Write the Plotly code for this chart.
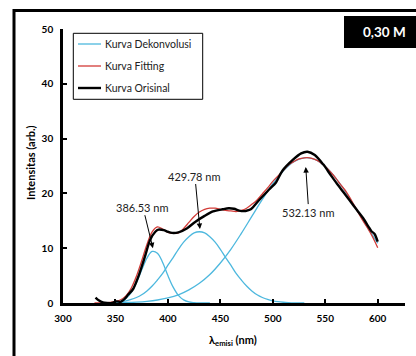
import plotly.graph_objects as go

# ---- data ----
wl_orig = [331, 334, 338, 342, 347, 351, 355, 358, 362, 367, 372, 378, 383, 388, 391, 396,
           400, 404, 410, 418, 426, 435, 443, 452, 458, 463, 469, 474, 479, 487, 497, 503,
           509, 519, 527, 533, 540, 548, 555, 561, 567, 573, 580, 586, 591, 594, 597, 600]
y_orig = [1.0, 0.5, 0.1, 0.0, 0.0, 0.3, 0.2, 0.6, 1.5, 2.6, 4.9, 8.4, 11.5, 13.0, 13.4, 13.3,
          13.0, 12.8, 12.9, 13.6, 14.8, 15.9, 16.7, 17.1, 17.3, 17.2, 16.8, 16.8, 17.1, 18.8, 20.8, 22.0,
          24.1, 26.1, 27.3, 27.6, 27.0, 25.3, 23.4, 21.8, 20.3, 18.8, 17.0, 15.5, 14.0, 13.1, 12.6, 11.2]

wl_fit = [330, 335, 340, 345, 350, 355, 360, 365, 370, 375, 380, 385, 390, 395, 400, 405,
          410, 415, 420, 425, 430, 435, 440, 445, 450, 455, 460, 465, 470, 475, 480, 485,
          490, 495, 500, 505, 510, 515, 520, 525, 530, 535, 540, 545, 550, 555, 560, 565,
          570, 575, 580, 585, 590, 595, 600]
y_fit = [0.0, 0.0, 0.0, 0.1, 0.3, 0.6, 1.3, 2.7, 4.9, 7.7, 10.7, 13.0, 13.9, 13.5, 12.9, 12.7,
         12.8, 13.6, 14.7, 15.8, 16.6, 17.1, 17.3, 17.3, 17.1, 16.9, 16.8, 16.7, 16.9, 17.3, 18.0, 18.8,
         19.9, 21.0, 22.2, 23.2, 24.2, 25.2, 25.8, 26.3, 26.5, 26.5, 26.2, 25.7, 24.9, 23.9, 22.8, 21.5,
         20.3, 18.7, 17.0, 15.3, 13.8, 12.1, 10.1]

wl_p1 = [345, 350, 355, 360, 365, 370, 375, 380, 385, 390, 395, 400, 405, 410, 415, 420, 425, 430, 440]
y_p1 = [0.02, 0.09, 0.30, 0.83, 1.9, 3.7, 6.0, 8.2, 9.4, 9.1, 7.4, 5.0, 2.9, 1.4, 0.57, 0.19, 0.06, 0.01, 0.0]

wl_p2 = [350, 355, 360, 365, 370, 375, 380, 385, 390, 395, 400, 405, 410, 415, 420, 425, 430,
         435, 440, 445, 450, 455, 460, 465, 470, 475, 480, 485, 490, 495, 500, 505, 510, 515, 520, 530]
y_p2 = [0.14, 0.24, 0.40, 0.64, 1.0, 1.5, 2.2, 3.1, 4.2, 5.4, 6.9, 8.3, 9.8, 11.1, 12.1, 12.8, 13.0,
        12.8, 12.1, 11.1, 9.8, 8.3, 6.9, 5.4, 4.2, 3.1, 2.2, 1.5, 1.0, 0.64, 0.40, 0.24, 0.14, 0.08, 0.04, 0.0]

wl_p3 = [350, 360, 370, 380, 390, 400, 410, 420, 430, 440, 450, 460, 470, 480, 490, 500,
         510, 520, 530, 540, 550, 560, 570, 580, 590, 600]
y_p3 = [0.05, 0.09, 0.17, 0.31, 0.55, 0.93, 1.5, 2.4, 3.6, 5.2, 7.3, 9.8, 12.7, 15.8, 18.9, 21.8,
        24.1, 25.8, 26.5, 26.2, 24.9, 22.8, 20.1, 17.0, 13.9, 10.9]

peak_labels = ["386.53 nm", "429.78 nm", "532.13 nm"]
peak_x = [385.7, 430.5, 531.4]
peak_y = [10.0, 13.5, 24.8]
peak_ax = [-10, -5, 3]
peak_ay = [-41, -53, 45]

legend_names = ["Kurva Dekonvolusi", "Kurva Fitting", "Kurva Orisinal"]

x_ticks = [300, 350, 400, 450, 500, 550, 600]
y_ticks = [0, 10, 20, 30, 40, 50]

BLUE = "#4db8de"
RED = "#d23a36"
FONT = "Lato"
colors = [BLUE, RED, "black"]
widths = [1.3, 1.3, 2.4]

fig = go.Figure()
fig.add_trace(go.Scatter(x=wl_p1, y=y_p1, mode="lines", name=legend_names[0],
                         line=dict(color=BLUE, width=1.3, shape="spline")))
fig.add_trace(go.Scatter(x=wl_p2, y=y_p2, mode="lines", name=legend_names[0],
                         line=dict(color=BLUE, width=1.3, shape="spline")))
fig.add_trace(go.Scatter(x=wl_p3, y=y_p3, mode="lines", name=legend_names[0],
                         line=dict(color=BLUE, width=1.3, shape="spline")))
fig.add_trace(go.Scatter(x=wl_fit, y=y_fit, mode="lines", name=legend_names[1],
                         line=dict(color=RED, width=1.3, shape="spline")))
fig.add_trace(go.Scatter(x=wl_orig, y=y_orig, mode="lines", name=legend_names[2],
                         line=dict(color="black", width=2.4, shape="spline", smoothing=0.8)))

W, H = 416, 356
L, R, T, B = 63, 11, 29, 53


def px(xp):
    return xp / W


def py(yp):
    return 1 - yp / H


for lab, x, y, ax, ay in zip(peak_labels, peak_x, peak_y, peak_ax, peak_ay):
    fig.add_annotation(x=x, y=y, text=lab, showarrow=True, ax=ax, ay=ay,
                       arrowhead=2, arrowsize=1.1, arrowwidth=1, arrowcolor="black",
                       font=dict(family=FONT, size=11, color="#222"))

# outer frame (left and top edges visible)
fig.add_shape(type="rect", xref="paper", yref="paper",
              x0=px(14), x1=px(425), y0=py(365), y1=py(10.5),
              line=dict(color="black", width=3), fillcolor="rgba(0,0,0,0)", layer="above")
# label box
fig.add_shape(type="rect", xref="paper", yref="paper",
              x0=px(344), x1=px(430), y0=py(48), y1=py(16),
              line=dict(width=0), fillcolor="black", layer="above")
fig.add_annotation(xref="paper", yref="paper", x=px(384.5), y=py(32), text="<b>0,30 M</b>",
                   xanchor="center", yanchor="middle",
                   showarrow=False, font=dict(family=FONT, size=13.5, color="white"))

# legend box drawn by hand
fig.add_shape(type="rect", xref="paper", yref="paper",
              x0=px(73.3), x1=px(202.7), y0=py(99.3), y1=py(33.3),
              line=dict(color="black", width=1), fillcolor="white", layer="above")
for i, (nm, c, w) in enumerate(zip(legend_names, colors, widths)):
    yy = 44 + 22 * i
    fig.add_shape(type="line", xref="paper", yref="paper",
                  x0=px(78), x1=px(101), y0=py(yy), y1=py(yy),
                  line=dict(color=c, width=w), layer="above")
    fig.add_annotation(xref="paper", yref="paper", x=px(103), y=py(yy), text=nm,
                       xanchor="left", yanchor="middle", showarrow=False,
                       font=dict(family=FONT, size=10.5, color="#222"))

# axis titles
fig.add_annotation(xref="paper", yref="paper", x=px(30.5), y=py(162.5),
                   text="<b>Intensitas (arb.)</b>", textangle=-90, showarrow=False,
                   xanchor="center", yanchor="middle",
                   font=dict(family=FONT, size=11, color="black"))
fig.add_annotation(xref="paper", yref="paper", x=px(233), y=py(340),
                   text="<b>λ<sub>emisi</sub> (nm)</b>", showarrow=False,
                   xanchor="center", yanchor="middle",
                   font=dict(family=FONT, size=11, color="black"))

fig.update_layout(
    width=W, height=H,
    margin=dict(l=0, r=0, t=0, b=0, autoexpand=False),
    paper_bgcolor="white", plot_bgcolor="white",
    font=dict(family=FONT, color="black"),
    showlegend=False,
    xaxis=dict(domain=[L / W, (W - R) / W], range=[300, 626], tickvals=x_ticks,
               ticks="inside", ticklen=4, tickwidth=2,
               tickcolor="black", showline=True, linewidth=2.6, linecolor="black",
               showgrid=False, zeroline=False, ticklabelstandoff=4, automargin=False,
               tickfont=dict(family=FONT, size=10, weight="bold")),
    yaxis=dict(domain=[B / H, (H - T) / H], range=[0, 50], tickvals=y_ticks,
               ticks="inside", ticklen=4, tickwidth=2,
               tickcolor="black", showline=True, linewidth=2.6, linecolor="black",
               showgrid=False, zeroline=False, ticklabelstandoff=5, automargin=False,
               tickfont=dict(family=FONT, size=10, weight="bold")),
)

fig.write_html("out.html", config={"displayModeBar": False},
               post_script="document.body.style.margin='0';document.body.style.overflow='hidden';")
